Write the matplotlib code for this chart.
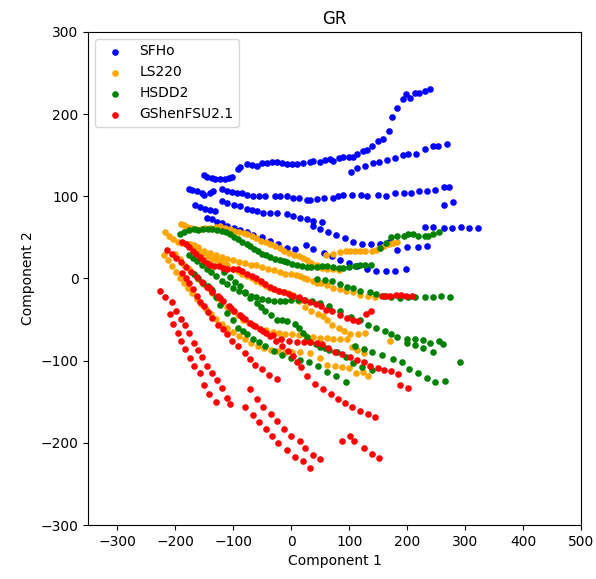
import matplotlib
matplotlib.use("Agg")
import matplotlib.pyplot as plt
import numpy as np

labels = ["SFHo", "LS220", "HSDD2", "GShenFSU2.1"]
colors = ["blue", "orange", "green", "red"]

# points, one list per EOS
sfho = [
    (-151, 126), (-145, 124), (-137, 122), (-131, 121), (-122, 121), (-114, 121), (-108, 122), (-102, 123),
    (-91, 133), (-88, 136), (-76, 139), (-68, 138), (-59, 137), (-50, 140), (-42, 141), (-33, 142), (-25, 142),
    (-16, 140), (-7, 139), (1, 139), (10, 139), (21, 141), (33, 142), (38, 143), (50, 142), (59, 144), (67, 145),
    (73, 143), (82, 147), (90, 148), (99, 148), (106, 148), (114, 151), (124, 155), (130, 156), (139, 161),
    (149, 167), (158, 170), (168, 179), (174, 197), (182, 207), (193, 218), (198, 224), (205, 220), (214, 226),
    (220, 226), (231, 228), (240, 231),
    (103, 130), (114, 134), (128, 137), (141, 140), (152, 142), (165, 144), (179, 146), (193, 150), (202, 151),
    (215, 152), (231, 158), (244, 161), (253, 161), (268, 163),
    (-177, 109), (-171, 108), (-163, 106), (-154, 104), (-151, 101), (-140, 104), (-134, 106), (-120, 109),
    (-111, 107), (-102, 105), (-94, 104), (-85, 104), (-76, 102), (-65, 100), (-56, 100), (-45, 100), (-28, 100),
    (-19, 100), (-7, 100), (4, 98), (13, 98), (27, 96), (33, 96), (44, 97), (57, 98), (72, 98), (80, 100),
    (90, 102), (105, 102), (120, 102), (130, 100), (150, 102), (163, 100), (179, 104), (194, 104), (207, 104),
    (221, 107), (234, 106), (248, 108), (263, 111), (273, 111), (264, 90), (279, 93),
    (-166, 89), (-157, 87), (-148, 85), (-140, 83), (-131, 82), (-120, 94), (-110, 92), (-99, 90), (-88, 88),
    (-76, 85), (-67, 83), (-59, 82), (-48, 80), (-36, 80), (-25, 80), (-8, 78), (4, 76), (15, 74), (27, 72),
    (38, 70), (53, 69), (38, 64), (50, 60), (64, 56), (78, 53), (93, 49), (107, 44), (122, 42), (138, 42),
    (153, 42), (168, 45), (183, 35), (199, 38), (218, 38), (234, 40),
    (231, 63), (245, 63), (263, 62), (278, 62), (293, 63), (306, 61), (322, 62),
    (-145, 74), (-137, 72), (-128, 69), (-119, 67), (-111, 64), (-99, 61), (-88, 59), (-76, 56), (-65, 53),
    (-51, 51), (-36, 46), (-22, 42), (-7, 37), (7, 36), (26, 41), (38, 36), (56, 31), (70, 27), (84, 22),
    (100, 19), (114, 15), (130, 12), (147, 9), (163, 9), (179, 9), (198, 12),
]

ls220 = [
    (-190, 66), (-185, 65), (-180, 63), (-172, 61), (-164, 60), (-156, 60), (-148, 61), (-140, 62), (-130, 63),
    (-122, 64), (-114, 62), (-106, 60), (-98, 58), (-90, 57), (-82, 55), (-76, 54), (-68, 52), (-60, 49),
    (-52, 46), (-44, 44), (-36, 42), (-28, 40), (-20, 37), (-12, 34), (-4, 31), (5, 29), (13, 27), (21, 25),
    (28, 22), (35, 19), (44, 16), (53, 13), (62, 12), (72, 11), (82, 10),
    (60, 28), (72, 30), (84, 32), (95, 33), (102, 33), (110, 33), (118, 33), (127, 33), (139, 33), (146, 35),
    (153, 37), (160, 40), (168, 42), (175, 43), (182, 44),
    (-160, 38), (-150, 34), (-140, 31), (-130, 28), (-120, 26), (-110, 24), (-100, 22), (-90, 20), (-80, 19),
    (-70, 17), (-60, 16), (-50, 14), (-40, 12), (-30, 10), (-20, 8), (-10, 6), (0, 5), (8, 4), (15, 3), (22, 1),
    (27, -1), (37, -3), (44, -5), (51, -6), (62, -8), (73, -11), (84, -13), (95, -15), (107, -17), (119, -20),
    (132, -21), (145, -23),
    (-217, 56), (-211, 52), (-203, 48), (-195, 45), (-188, 43), (-180, 42), (-174, 42), (-168, 41), (-160, 36),
    (-152, 31), (-144, 27), (-136, 24), (-128, 22), (-119, 20), (-110, 16), (-101, 12), (-92, 9), (-84, 6),
    (-76, 3), (-68, 0), (-60, -3), (-52, -6), (-44, -9), (-37, -11), (-30, -13), (-22, -15), (-14, -17),
    (-5, -18), (4, -20), (14, -27), (24, -35), (35, -40), (47, -43), (55, -46), (62, -51), (70, -56), (82, -60),
    (91, -64), (101, -68), (116, -67), (127, -66), (170, -76),
    (-220, 28), (-213, 22), (-206, 15), (-199, 8), (-192, 1), (-185, -5), (-178, -12), (-171, -18), (-163, -25),
    (-155, -31), (-147, -37), (-138, -43), (-129, -49), (-120, -55), (-110, -60), (-100, -65), (-90, -70),
    (-80, -74), (-70, -78), (-58, -82), (-46, -85), (-34, -87), (-22, -88), (-10, -89), (2, -89), (15, -89),
    (33, -91), (50, -97), (62, -105), (75, -107), (88, -108), (99, -109), (112, -115), (124, -114), (133, -119),
    (-200, 30), (-192, 24), (-184, 17), (-176, 11), (-168, 5), (-160, -1), (-152, -7), (-144, -12), (-136, -18),
    (-128, -24), (-119, -29), (-110, -35), (-101, -40), (-92, -45), (-83, -50), (-73, -54), (-63, -58),
    (-53, -61), (-43, -63), (-32, -65), (-21, -66), (-10, -67), (1, -68), (13, -69), (25, -70), (37, -71),
    (49, -72), (61, -72), (73, -73), (85, -73), (96, -74), (105, -83), (114, -87), (126, -91),
]

hsdd2 = [
    (-191, 54), (-184, 57), (-176, 59), (-168, 60), (-160, 59), (-152, 60), (-144, 60), (-136, 60), (-128, 59),
    (-120, 58), (-112, 56), (-105, 54), (-98, 51), (-91, 48), (-84, 45), (-77, 42), (-71, 39), (-64, 36),
    (-57, 33), (-50, 30), (-43, 28), (-36, 26), (-28, 24), (-20, 22), (-13, 21), (-7, 20), (2, 18), (10, 16),
    (18, 15), (27, 14), (35, 14), (44, 14), (53, 15), (62, 15), (72, 14), (82, 13), (90, 13), (100, 14),
    (110, 15), (118, 16), (127, 16), (137, 17),
    (153, 37), (164, 43), (172, 50), (182, 52), (194, 52), (202, 54), (210, 54), (219, 52), (230, 52),
    (236, 52), (244, 54), (255, 56),
    (-177, 29), (-170, 25), (-162, 21), (-154, 17), (-146, 12), (-138, 8), (-130, 3), (-120, -3), (-110, -7),
    (-100, -11), (-90, -15), (-80, -18), (-70, -21), (-60, -23), (-50, -25), (-40, -26), (-30, -27), (-20, -27),
    (-10, -27), (0, -26), (12, -26), (24, -26), (36, -27), (50, -30), (66, -34), (85, -40), (103, -47),
    (118, -51), (133, -56), (147, -60), (162, -64), (172, -68), (182, -71), (199, -74), (213, -73), (228, -75),
    (240, -78), (255, -76), (262, -80),
    (45, -1), (58, -2), (70, -3), (84, -7), (96, -10), (107, -11), (119, -15), (136, -16), (146, -19),
    (160, -21), (172, -23), (188, -24), (201, -23), (214, -23), (231, -22), (245, -22), (259, -21), (274, -22),
    (199, -79), (213, -81), (228, -84), (245, -89),
    (110, -82), (125, -86), (140, -89), (156, -93), (175, -98), (192, -102), (204, -110), (218, -115),
    (235, -121), (248, -126), (265, -125), (291, -102),
    (-168, 5), (-160, 0), (-152, -5), (-144, -9), (-137, -14), (-130, -22), (-122, -32), (-111, -42),
    (-100, -51), (-91, -60), (-83, -64), (-76, -68), (-66, -73), (-56, -77), (-45, -82), (-30, -88), (-15, -93),
    (0, -97), (15, -99), (31, -102), (47, -107), (62, -114), (77, -119), (95, -126),
    (-115, 8), (-105, 2), (-97, -4), (-89, -9), (-80, -16), (-71, -24), (-59, -30), (-52, -35), (-45, -40),
    (-35, -45), (-25, -50), (-16, -51), (-7, -52), (7, -55), (14, -60), (21, -66), (27, -71), (33, -77),
    (42, -80), (50, -83), (58, -85), (65, -87), (79, -90), (94, -96), (107, -103), (122, -108), (139, -111),
]

gshen = [
    (-188, 45), (-182, 42), (-176, 38), (-170, 34), (-164, 30), (-158, 26), (-152, 22), (-146, 19), (-140, 17),
    (-133, 15), (-125, 15), (-118, 13), (-110, 12), (-101, 12), (-91, 12), (-84, 9), (-76, 6), (-68, 3),
    (-60, 0), (-52, -3), (-45, -7), (-37, -10), (-29, -13), (-21, -15), (-13, -17), (-4, -19), (4, -21),
    (13, -23), (22, -26), (32, -28), (42, -31), (51, -34), (60, -38), (70, -40), (84, -44), (96, -48),
    (106, -51), (116, -52), (129, -43), (138, -39),
    (156, -21), (163, -21), (171, -21), (180, -20), (189, -20), (198, -21), (208, -21),
    (-188, 7), (-182, 1), (-176, -6), (-170, -13), (-163, -21), (-157, -28), (-151, -34), (-144, -41),
    (-137, -48), (-127, -56), (-118, -62), (-111, -68), (-102, -76), (-91, -82), (-79, -91), (-71, -98),
    (-62, -105), (-50, -110), (-39, -117), (-25, -122),
    (-214, 35), (-206, 30), (-198, 25), (-190, 20), (-181, 14), (-172, 8), (-163, 2), (-154, -4), (-145, -10),
    (-136, -16), (-127, -21), (-117, -27), (-108, -33), (-98, -39), (-89, -44), (-80, -49), (-71, -54),
    (-62, -58), (-53, -62), (-44, -66), (-36, -70), (-26, -76), (-16, -82), (-6, -88), (4, -94), (10, -101),
    (17, -108), (28, -119), (41, -128), (55, -135), (68, -141), (80, -147), (92, -152), (105, -156), (118, -161),
    (132, -165), (145, -169),
    (-140, -12), (-122, -24), (-103, -36), (-85, -47), (-66, -56), (-48, -64), (-31, -69), (-17, -73),
    (-3, -76), (10, -77), (22, -77), (33, -77), (44, -78), (53, -80), (64, -84), (76, -90), (87, -92),
    (102, -95), (113, -99), (125, -102), (136, -106), (149, -109), (160, -111), (172, -113), (185, -116),
    (188, -129), (201, -133),
    (-227, -15), (-217, -22), (-206, -29), (-198, -40), (-190, -49), (-183, -57), (-177, -66), (-168, -78),
    (-161, -87), (-153, -96), (-145, -106), (-136, -115), (-128, -124), (-120, -133), (-110, -145), (-105, -153),
    (-209, -43), (-203, -55), (-196, -66), (-190, -76), (-183, -86), (-175, -97), (-168, -106), (-158, -115),
    (-151, -129), (-141, -140), (-129, -150),
    (-71, -134), (-59, -147), (-48, -156), (-35, -165), (-24, -173), (-12, -183), (0, -192), (15, -198),
    (24, -206), (37, -215), (50, -220),
    (-79, -156), (-66, -166), (-56, -175), (-43, -183), (-33, -191), (-22, -200), (-7, -208), (7, -217),
    (20, -222), (33, -230),
    (87, -198), (101, -192), (109, -198), (126, -206), (139, -213), (151, -218),
]

fig = plt.figure(figsize=(5.96, 5.79), dpi=100)
ax = fig.add_axes([0.148, 0.093, 0.827, 0.852])

for pts, lab, col in zip([sfho, ls220, hsdd2, gshen], labels, colors):
    xy = np.array(pts, dtype=float)
    ax.scatter(xy[:, 0], xy[:, 1], s=14, c=col, label=lab)

ax.set_xlim(-350, 500)
ax.set_ylim(-300, 300)
ax.set_xticks(range(-300, 501, 100))
ax.set_yticks(range(-300, 301, 100))
ax.set_xlabel("Component 1")
ax.set_ylabel("Component 2")
ax.set_title("GR")
ax.legend(loc="upper left")

fig.savefig("out.png", dpi=100)
